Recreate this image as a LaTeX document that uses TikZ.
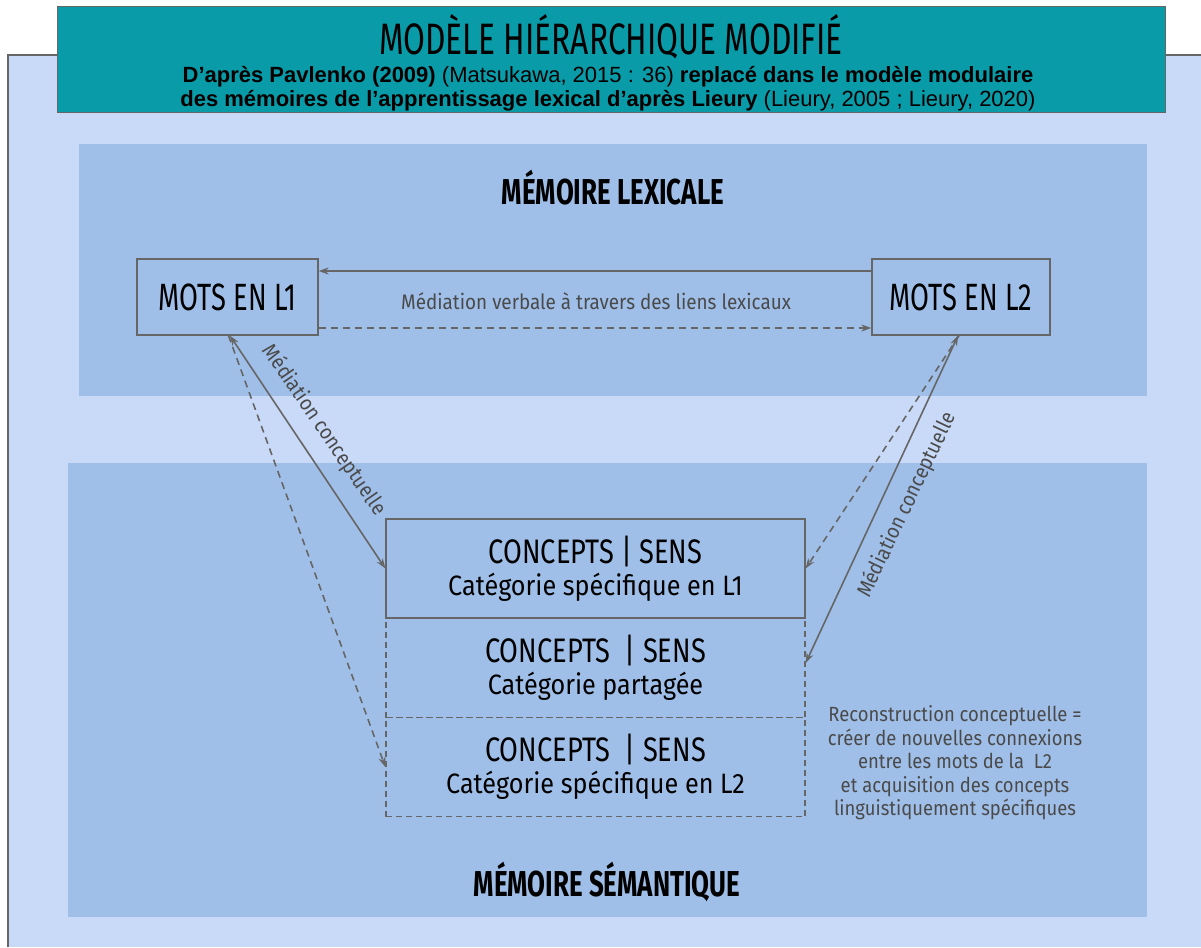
\documentclass[tikz,border=0pt]{standalone}
\usepackage{fontspec}
\setmainfont{Fira Sans}
\newfontfamily\titlefont[FakeStretch=0.72]{Fira Sans}
\newfontfamily\headfont[FakeStretch=0.72]{Fira Sans}
\newfontfamily\confont[FakeStretch=0.8]{Fira Sans}
\newfontfamily\subfont{Liberation Sans}
\newfontfamily\bodyfont[FakeStretch=0.9]{Fira Sans}
\usetikzlibrary{arrows.meta}
\definecolor{panel}{HTML}{C9DAF8}
\definecolor{band}{HTML}{9FBFE8}
\definecolor{teal}{HTML}{0A9BA8}
\definecolor{edge}{HTML}{666666}
\definecolor{greytxt}{HTML}{4A4A4A}
\tikzset{
  wordbox/.style={draw=edge, line width=1.3pt, minimum width=#1, minimum height=76pt, inner sep=0pt, font=\headfont\fontsize{38}{42}\selectfont},
  conbox/.style={draw=edge, line width=1.3pt, minimum width=419pt, minimum height=99pt, inner sep=0pt, align=center},
  dconbox/.style={conbox, dash pattern=on 6pt off 4pt},
  conn/.style={draw=edge, line width=1.6pt, -{Stealth[length=10pt,width=7pt]}},
  dconn/.style={conn, dash pattern=on 7pt off 5pt},
  both/.style={conn, {Stealth[length=10pt,width=7pt]}-{Stealth[length=10pt,width=7pt]}},
  greylabel/.style={text=greytxt, font=\bodyfont\fontsize{21}{24}\selectfont, inner sep=0pt},
  memtitle/.style={font=\headfont\bfseries\fontsize{36}{40}\selectfont, inner sep=0pt},
}
\newcommand{\conhd}[1]{{\confont\fontsize{34}{38}\selectfont #1}}
\newcommand{\consub}[1]{{\bodyfont\fontsize{28}{32}\selectfont #1}}
\begin{document}
\begin{tikzpicture}[x=1pt,y=-1pt]
\useasboundingbox (0,0) rectangle (1201,947);
\fill[white] (0,0) rectangle (1201,947);
% outer panel
\fill[panel] (8,55) rectangle (1201,947);
\draw[edge, line width=1.2pt] (8,947) -- (8,55) -- (1201,55);
% bands
\fill[band] (79,144) rectangle (1147,396);
\fill[band] (68,463) rectangle (1147,917);
% header
\node[draw=edge, line width=1pt, fill=teal, minimum width=1108pt, minimum height=106pt, inner sep=0pt] (head) at (611,60) {};
\node[font=\titlefont\fontsize{44}{48}\selectfont, inner sep=0pt] (title) at (611,37) {MODÈLE HIÉRARCHIQUE MODIFIÉ};
\node[font=\subfont\fontsize{22}{24}\selectfont, align=center, inner sep=0pt] (sub) at (608,89)
  {\textbf{D’après Pavlenko (2009)} (Matsukawa, 2015 : 36) \textbf{replacé dans le modèle modulaire}\\
   \textbf{des mémoires de l’apprentissage lexical d’après Lieury} (Lieury, 2005 ; Lieury, 2020)};
% memory titles
\node[memtitle] (lex) at (613,188) {MÉMOIRE LEXICALE};
\node[memtitle] (sem) at (607,882) {MÉMOIRE SÉMANTIQUE};
% word boxes
\node[wordbox=181pt] (L1) at (227.5,297) {MOTS EN L1};
\node[wordbox=178pt] (L2) at (961,297) {MOTS EN L2};
% concept boxes
\node[conbox] (C1) at (595.5,568.5) {\conhd{CONCEPTS | SENS}\\[5pt]\consub{Catégorie spécifique en L1}};
\node[dconbox] (C2) at (595.5,668) {\conhd{CONCEPTS \ | SENS}\\[5pt]\consub{Catégorie partagée}};
\node[dconbox] (C3) at (595.5,767) {\conhd{CONCEPTS \ | SENS}\\[5pt]\consub{Catégorie spécifique en L2}};
\draw[edge, line width=1.3pt] (C1.north west) rectangle (C1.south east);
% lexical links
\draw[conn] ([yshift=26pt]L2.west) -- ([yshift=26pt]L1.east);
\draw[dconn] ([yshift=-31pt]L1.east) -- ([yshift=-31pt]L2.west);
\node[greylabel] (verb) at (596,301) {Médiation verbale à travers des liens lexicaux};
% conceptual links
\draw[both] ([xshift=2.5pt]L1.south) -- (C1.west);
\draw[dconn] ([xshift=1pt]L1.south) -- (C3.west);
\draw[both] ([xshift=-3pt]L2.south) -- ([yshift=5pt]C2.east);
\draw[dconn] ([xshift=-2pt]L2.south) -- (C1.east);
\node[greylabel, rotate=-55.5] (mcl) at (324,430) {Médiation conceptuelle};
\node[greylabel, rotate=64.5] (mcr) at (907,505) {Médiation conceptuelle};
% reconstruction text
\node[greylabel, align=center, font=\bodyfont\fontsize{20.5}{23.5}\selectfont] (recon) at (955,763) {Reconstruction conceptuelle =\\créer de nouvelles connexions\\entre les mots de la \ L2\\et acquisition des concepts\\linguistiquement spécifiques};
\end{tikzpicture}
\end{document}
